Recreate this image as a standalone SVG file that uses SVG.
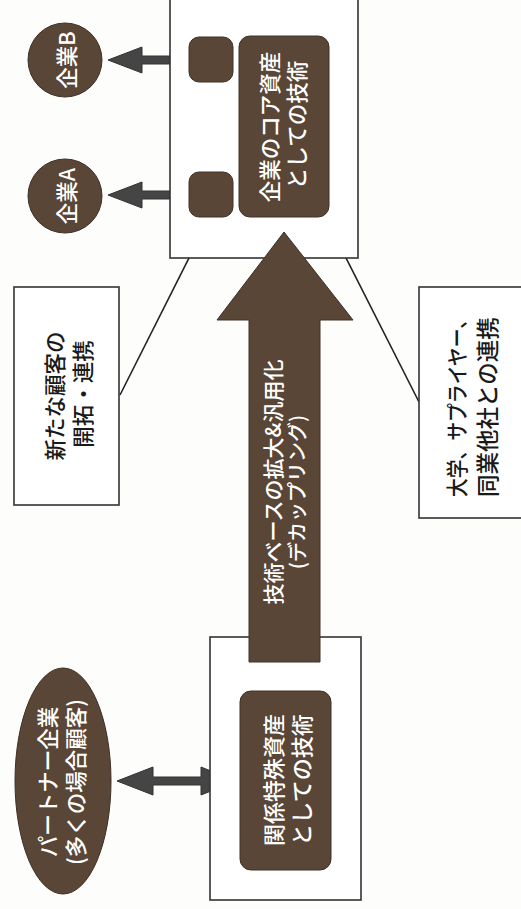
<svg xmlns="http://www.w3.org/2000/svg" width="521" height="909" viewBox="0 0 521 909">
<style>
  .bg { fill: #fdfdfc; }
  .frame { fill: #ffffff; stroke: #333333; stroke-width: 1.6; }
  .brown { fill: #5a4636; stroke: #3e3026; stroke-width: 1; }
  .gray { fill: #454545; stroke: #333333; stroke-width: 1; }
  .line { stroke: #222222; stroke-width: 1.6; fill: none; }
  .t { font-family: "Noto Sans CJK JP", "Noto Sans", sans-serif; font-size: 21.5px; font-weight: 500; text-anchor: middle; dominant-baseline: central; }
  .w { fill: #ffffff; }
  .k { fill: #1a1a1a; }
</style>
<rect class="bg" x="0" y="0" width="521" height="909"/>

<g id="connectors">
  <line class="line" x1="192" y1="252" x2="120" y2="395"/>
  <line class="line" x1="343" y1="252" x2="419" y2="402"/>
  <path class="gray" d="M184,56 L142,56 L142,47 L108,60 L142,73 L142,64 L184,64 Z"/>
  <path class="gray" d="M184,191 L142,191 L142,182 L108,195 L142,208 L142,199 L184,199 Z"/>
  <path class="gray" d="M117,781 L153,767 L153,777 L201,777 L201,767 L236,781 L201,795 L201,785 L153,785 L153,795 Z"/>
</g>

<g id="top-frame">
  <rect class="frame" x="170" y="-5" width="188" height="263"/>
</g>

<g id="bottom-frame">
  <rect class="frame" x="210" y="637" width="151" height="263"/>
</g>

<g id="big-arrow">
  <path class="brown" d="M284,232 L353,320 L320,320 L320,662 L249,662 L249,320 L217,320 Z"/>
  <text class="t w" transform="translate(272,482) rotate(-90)" style="font-size:21px">技術ベースの拡大&amp;汎用化</text>
  <text class="t w" transform="translate(296,492) rotate(-90)" style="font-size:20px">(デカップリング)</text>
</g>

<g id="small-b">
  <rect class="brown" x="189" y="37" width="44" height="45" rx="10"/>
</g>
<g id="small-a">
  <rect class="brown" x="189" y="172" width="44" height="45" rx="10"/>
</g>

<g id="core-tech">
  <rect class="brown" x="239" y="36" width="90" height="181" rx="11"/>
  <text class="t w" transform="translate(268,127) rotate(-90)">企業のコア資産</text>
  <text class="t w" transform="translate(295,125) rotate(-90)">としての技術</text>
</g>

<g id="company-b">
  <circle class="brown" cx="65" cy="60" r="37"/>
  <text class="t w" transform="translate(65,60) rotate(-90)">企業B</text>
</g>
<g id="company-a">
  <circle class="brown" cx="65" cy="196" r="37"/>
  <text class="t w" transform="translate(65,196) rotate(-90)">企業A</text>
</g>

<g id="new-customers">
  <rect class="frame" x="14" y="287" width="105" height="218"/>
  <text class="t k" transform="translate(53,396) rotate(-90)">新たな顧客の</text>
  <text class="t k" transform="translate(81,394) rotate(-90)">開拓・連携</text>
</g>

<g id="partners-collab">
  <rect class="frame" x="419" y="287" width="110" height="231"/>
  <text class="t k" transform="translate(455,497) rotate(-90)" style="text-anchor:start;font-size:22px" textLength="187" lengthAdjust="spacingAndGlyphs">大学、サプライヤー、</text>
  <text class="t k" transform="translate(486,497) rotate(-90)" style="text-anchor:start;font-size:22.5px">同業他社との連携</text>
</g>

<g id="relation-tech">
  <rect class="brown" x="240" y="691" width="91" height="179" rx="11"/>
  <text class="t w" transform="translate(272,780) rotate(-90)" style="font-size:22px">関係特殊資産</text>
  <text class="t w" transform="translate(300,780) rotate(-90)" style="font-size:22px">としての技術</text>
</g>

<g id="partner-company">
  <ellipse class="brown" cx="63" cy="781" rx="48" ry="113"/>
  <text class="t w" transform="translate(46,782) rotate(-90)">パートナー企業</text>
  <text class="t w" transform="translate(74,782) rotate(-90)">(多くの場合顧客)</text>
</g>
</svg>
